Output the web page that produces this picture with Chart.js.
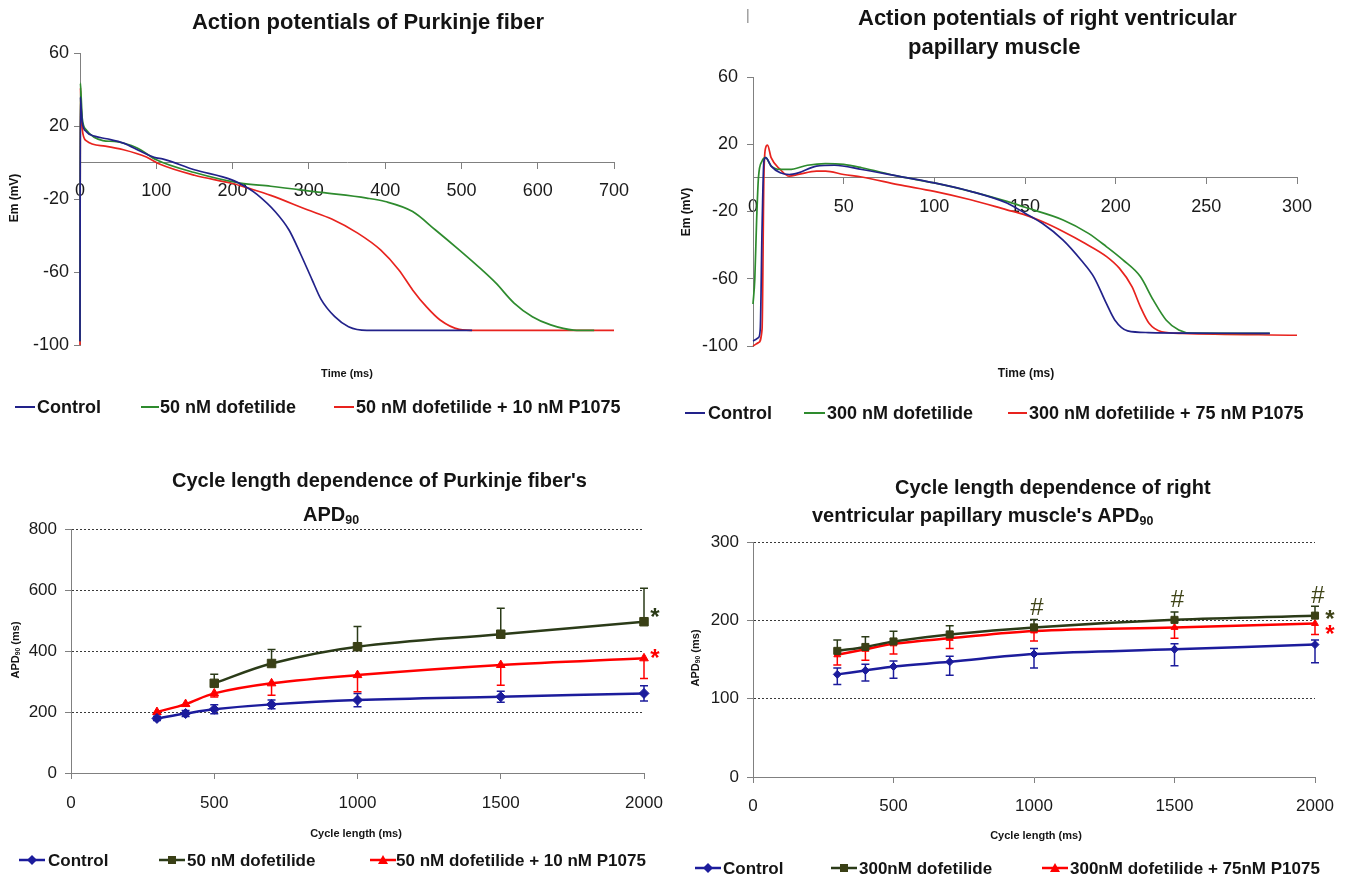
<!DOCTYPE html>
<html>
<head>
<meta charset="utf-8">
<script src="https://cdn.jsdelivr.net/npm/chart.js@4.4.0/dist/chart.umd.min.js"></script>
<style>
    body { margin: 0; background: #fff; overflow: hidden; }
    #page { position: relative; width: 1348px; height: 877px; font-family: "Liberation Sans", Arial, sans-serif; color: #141414; }
    canvas { position: absolute; left: 0; top: 0; }
    .t { position: absolute; white-space: nowrap; font-weight: bold; line-height: 1; transform: translateY(-50%); }
    .c { transform: translate(-50%, -50%); }
    .v { transform: translate(-50%, -50%) rotate(-90deg); }
    .sw { position: absolute; height: 2px; }
    .mk { position: absolute; width: 26px; height: 12px; }
    sub { font-size: 62%; vertical-align: -0.25em; line-height: 0; }
</style>
</head>
<body>
<div id="page">
    <canvas id="apPurkinje" width="1348" height="877"></canvas>
    <canvas id="apPapillary" width="1348" height="877"></canvas>
    <canvas id="apdPurkinje" width="1348" height="877"></canvas>
    <canvas id="apdPapillary" width="1348" height="877"></canvas>

    <!-- titles -->
    <div class="t c" style="left:368px;top:22px;font-size:22px">Action potentials of Purkinje fiber</div>
    <div class="t" style="left:746px;top:15px;font-size:14px;font-weight:normal;color:#888">|</div>
    <div class="t" style="left:858px;top:18px;font-size:22px">Action potentials of right ventricular</div>
    <div class="t" style="left:908px;top:47px;font-size:22px">papillary muscle</div>
    <div class="t" style="left:172px;top:480px;font-size:20px">Cycle length dependence of Purkinje fiber's</div>
    <div class="t" style="left:303px;top:514px;font-size:20px">APD<sub>90</sub></div>
    <div class="t" style="left:895px;top:487px;font-size:20px">Cycle length dependence of right</div>
    <div class="t" style="left:812px;top:515px;font-size:20px">ventricular papillary muscle's APD<sub>90</sub></div>

    <!-- axis titles -->
    <div class="t v" style="left:14px;top:198px;font-size:12px">Em (mV)</div>
    <div class="t c" style="left:347px;top:373px;font-size:11px">Time (ms)</div>
    <div class="t v" style="left:686px;top:212px;font-size:12px">Em (mV)</div>
    <div class="t c" style="left:1026px;top:373px;font-size:12px">Time (ms)</div>
    <div class="t v" style="left:15px;top:650px;font-size:11px">APD<sub>90</sub> (ms)</div>
    <div class="t c" style="left:356px;top:833px;font-size:11px">Cycle length (ms)</div>
    <div class="t v" style="left:695px;top:658px;font-size:11px">APD<sub>90</sub> (ms)</div>
    <div class="t c" style="left:1036px;top:835px;font-size:11px">Cycle length (ms)</div>

    <!-- legends, top -->
    <div class="sw" style="left:15px;top:406px;width:20px;background:#22228a"></div>
    <div class="t" style="left:37px;top:407px;font-size:18px">Control</div>
    <div class="sw" style="left:141px;top:406px;width:18px;background:#2e8b2e"></div>
    <div class="t" style="left:160px;top:407px;font-size:18px">50 nM dofetilide</div>
    <div class="sw" style="left:334px;top:406px;width:20px;background:#e8231e"></div>
    <div class="t" style="left:356px;top:407px;font-size:18px">50 nM dofetilide + 10 nM P1075</div>

    <div class="sw" style="left:685px;top:412px;width:20px;background:#22228a"></div>
    <div class="t" style="left:708px;top:413px;font-size:18px">Control</div>
    <div class="sw" style="left:804px;top:412px;width:21px;background:#2e8b2e"></div>
    <div class="t" style="left:827px;top:413px;font-size:18px">300 nM dofetilide</div>
    <div class="sw" style="left:1008px;top:412px;width:19px;background:#e8231e"></div>
    <div class="t" style="left:1029px;top:413px;font-size:18px">300 nM dofetilide + 75 nM P1075</div>

    <!-- legends, bottom -->
    <svg class="mk" style="left:19px;top:854px"><line x1="0" y1="6" x2="26" y2="6" stroke="#1c1c9c" stroke-width="2.5"/><polygon points="13,1 18,6 13,11 8,6" fill="#1c1c9c"/></svg>
    <div class="t" style="left:48px;top:860px;font-size:17px">Control</div>
    <svg class="mk" style="left:159px;top:854px"><line x1="0" y1="6" x2="26" y2="6" stroke="#2b3b18" stroke-width="2.5"/><rect x="9" y="2" width="8" height="8" fill="#3a4016"/></svg>
    <div class="t" style="left:187px;top:860px;font-size:17px">50 nM dofetilide</div>
    <svg class="mk" style="left:370px;top:854px"><line x1="0" y1="6" x2="26" y2="6" stroke="#ff0000" stroke-width="2.5"/><polygon points="13,1 18,10 8,10" fill="#ff0000"/></svg>
    <div class="t" style="left:396px;top:860px;font-size:17px">50 nM dofetilide + 10 nM P1075</div>

    <svg class="mk" style="left:695px;top:862px"><line x1="0" y1="6" x2="26" y2="6" stroke="#1c1c9c" stroke-width="2.5"/><polygon points="13,1 18,6 13,11 8,6" fill="#1c1c9c"/></svg>
    <div class="t" style="left:723px;top:868px;font-size:17px">Control</div>
    <svg class="mk" style="left:831px;top:862px"><line x1="0" y1="6" x2="26" y2="6" stroke="#2b3b18" stroke-width="2.5"/><rect x="9" y="2" width="8" height="8" fill="#3a4016"/></svg>
    <div class="t" style="left:859px;top:868px;font-size:17px">300nM dofetilide</div>
    <svg class="mk" style="left:1042px;top:862px"><line x1="0" y1="6" x2="26" y2="6" stroke="#ff0000" stroke-width="2.5"/><polygon points="13,1 18,10 8,10" fill="#ff0000"/></svg>
    <div class="t" style="left:1070px;top:868px;font-size:17px">300nM dofetilide + 75nM P1075</div>
</div>

<script>
// --- Action potentials, Purkinje fiber (time ms / Em mV) ---
const pkCtrlT = [0, 0.5, 1.5, 3, 8, 20, 35, 57, 80, 100, 108, 150, 199, 220, 232, 256, 274, 289, 304, 316, 334, 352, 376, 420, 514];
const pkCtrlV = [-98, 36, 30, 22, 17, 14.3, 13, 10.6, 6, 2.5, 2, -4, -9.5, -14, -17.5, -27, -37, -50, -64, -75, -84.5, -90, -92, -92, -92];
const pkDofT = [0, 0.5, 1.5, 3, 8, 30, 45, 75, 100, 150, 210, 250, 316, 376, 400, 436, 466, 497, 527, 545, 569, 593, 617, 647, 674];
const pkDofV = [-98, 43.5, 36, 24, 18, 12, 11.5, 8, 1.5, -5.5, -11.3, -13, -16.4, -19.5, -21.4, -26.9, -37, -47.9, -58.9, -66, -77, -84.5, -89, -91.8, -92];
const pkP1075T = [0, 0.5, 1.5, 3, 8, 33, 57, 87, 105, 150, 200, 220, 250, 298, 330, 364, 394, 418, 436, 454, 472, 497, 520, 700];
const pkP1075V = [-100, 41, 30, 18, 12, 9, 7, 3, -1, -7, -11.5, -14, -18, -25.9, -31, -38.7, -47.9, -58.9, -69.8, -79, -86.3, -91.4, -92, -92];

// --- Action potentials, right ventricular papillary muscle ---
const pmCtrlT = [0, 3, 4, 5, 6, 7, 10, 15, 20, 25, 35, 45, 60, 80, 100, 120, 140, 150, 159.5, 171, 181, 188, 195, 199.5, 206.6, 218, 285];
const pmCtrlV = [-97, -95, -90, -30, 10, 12, 7, 3, 2, 3, 7, 7.5, 5, 1, -3, -8, -15, -21, -27, -37, -49, -59, -75, -84.5, -91, -92, -92.5];
const pmDofT = [0, 1, 2, 3, 5, 7, 10, 15, 20, 30, 40, 50, 60, 80, 100, 120, 140, 150, 171, 185, 195, 204, 213.6, 220.7, 227.8, 234.8, 242, 285];
const pmDofV = [-75, -60, -25, 0, 10, 12, 7, 5, 5, 7.5, 8.5, 8, 6, 1, -3, -8, -14, -17.5, -25, -33, -41, -48.8, -58.7, -72.6, -84.5, -90.5, -92.4, -92.5];
const pmP1075T = [0, 3, 5, 6, 7, 8, 10, 15, 20, 25, 35, 40, 50, 60, 80, 100, 120, 140, 150, 159.5, 171, 183, 195, 202, 209, 213.6, 218.4, 225.4, 237, 300];
const pmP1075V = [-100, -98, -90, 0, 18, 19.5, 12, 5, 1, 2, 4, 4, 2, 0.5, -4, -8, -13, -19, -22, -26, -31.9, -38.9, -46.8, -53.7, -64.7, -76.6, -86.5, -91.5, -92.5, -93.6];

// --- APD90 vs cycle length ---
const cycleLen = [300, 400, 500, 700, 1000, 1500, 2000];

const pkApdCtrl = [179, 195, 209, 225, 239, 250, 261];
const pkApdCtrlErr = [7, 10, 15, 14, 22, 18, 25];
const pkApdDof = [null, null, 294, 359, 414, 455, 496];
const pkApdDofErr = [null, null, 30, 46, 66, 85, 110];
const pkApdP1075 = [200, 226, 261, 294, 321, 354, 376];
const pkApdP1075Err = [6, 6, 12, 39, 55, 66, 66];

const pmApdCtrl = [131, 136, 141, 147, 157, 163, 169];
const pmApdCtrlErrUp = [8, 8, 7, 7, 7, 7, 6];
const pmApdCtrlErrDown = [13, 13.5, 15, 17, 18, 21, 23];
const pmApdDof = [161, 166, 173, 182, 191, 200.6, 206];
const pmApdDofErr = [14, 13, 13, 11, 10, 10, 12];
const pmApdP1075 = [156, 163, 170, 177, 186.5, 191, 196];
const pmApdP1075Err = [13, 14, 13, 13, 13, 14, 14];
const pmHashAt = [1000, 1500, 2000];

const FONT = '"Liberation Sans", Arial, sans-serif';
const AXIS = '#808080';
const TEXT = '#1a1a1a';
const Y_BOX = 60;   // width kept for the y scale (its labels are clipped to it)
const X_BOX = 45;   // height kept for the bottom x scale

const toPoints = (xs, ys) => xs.map((x, i) => ({ x: x, y: ys[i] }));

// error bars: drawn under the markers
const errorBars = {
    id: 'errorBars',
    beforeDatasetsDraw(chart) {
        const { ctx, scales: { x, y } } = chart;
        chart.data.datasets.forEach(ds => {
            if (!ds.errUp && !ds.errDown) return;
            ctx.save();
            ctx.strokeStyle = ds.borderColor;
            ctx.lineWidth = 1.5;
            ds.data.forEach((p, i) => {
                if (p.y == null) return;
                const px = x.getPixelForValue(p.x);
                const py = y.getPixelForValue(p.y);
                [[ds.errUp, 1], [ds.errDown, -1]].forEach(([arr, dir]) => {
                    const e = arr && arr[i];
                    if (!e) return;
                    const ey = y.getPixelForValue(p.y + dir * e);
                    ctx.beginPath();
                    ctx.moveTo(px, py);
                    ctx.lineTo(px, ey);
                    ctx.moveTo(px - 4, ey);
                    ctx.lineTo(px + 4, ey);
                    ctx.stroke();
                });
            });
            ctx.restore();
        });
    }
};

// significance marks (* after the last point, # above chosen points)
const sigMarks = {
    id: 'sigMarks',
    afterDatasetsDraw(chart) {
        const { ctx, scales: { x, y } } = chart;
        chart.data.datasets.forEach(ds => {
            const pts = ds.data.filter(p => p.y != null);
            ctx.save();
            ctx.fillStyle = ds.markColor || ds.borderColor;
            ctx.textAlign = 'center';
            ctx.textBaseline = 'middle';
            if (ds.star) {
                const last = pts[pts.length - 1];
                ctx.font = 'bold 24px ' + FONT;
                ctx.fillText('*', x.getPixelForValue(last.x) + ds.star[0], y.getPixelForValue(last.y) + ds.star[1]);
            }
            (ds.hashAt || []).forEach(cx => {
                const p = pts.find(q => q.x === cx);
                ctx.font = '24px ' + FONT;
                ctx.fillText('#', x.getPixelForValue(p.x) + 3, y.getPixelForValue(p.y) - 19);
            });
            ctx.restore();
        });
    }
};

// plot box in page pixels -> layout padding around the scale boxes
function padFor(left, top, right, bottom, xBox) {
    return { left: left - Y_BOX, top: top, right: 1348 - right, bottom: 877 - bottom - xBox };
}

function apChart(id, box, xMax, xStep, yPad, series) {
    return new Chart(document.getElementById(id), {
        type: 'line',
        data: {
            datasets: series.map(s => ({
                label: s.label,
                data: toPoints(s.t, s.v),
                borderColor: s.color,
                borderWidth: 1.7,
                pointRadius: 0,
                cubicInterpolationMode: 'monotone',
                clip: false
            }))
        },
        options: {
            responsive: false,
            animation: false,
            events: [],
            layout: { padding: padFor(...box, 0) },
            plugins: { legend: { display: false }, tooltip: { enabled: false } },
            scales: {
                x: {
                    type: 'linear', position: { y: 0 }, min: 0, max: xMax,
                    ticks: { stepSize: xStep, padding: 12, maxRotation: 0, color: TEXT, font: { family: FONT, size: 18 }, format: { useGrouping: false } },
                    grid: { drawOnChartArea: false, tickLength: 6, color: AXIS },
                    border: { color: AXIS },
                    afterFit: s => { s.height = 0; }
                },
                y: {
                    min: -100, max: 60,
                    ticks: { stepSize: 40, padding: yPad, color: TEXT, font: { family: FONT, size: 18 } },
                    grid: { drawOnChartArea: false, tickLength: 6, color: AXIS },
                    border: { color: AXIS },
                    afterFit: s => { s.width = Y_BOX; }
                }
            }
        }
    });
}

function apdChart(id, box, yMax, yStep, xPad, series, radius) {
    return new Chart(document.getElementById(id), {
        type: 'line',
        data: {
            datasets: series.map(s => ({
                label: s.label,
                data: toPoints(cycleLen, s.v),
                borderColor: s.color,
                borderWidth: 2.5,
                tension: 0.35,
                pointStyle: s.shape,
                pointRadius: s.shape === 'rect' ? radius + 1 : radius,
                pointBackgroundColor: s.marker || s.color,
                pointBorderColor: s.marker || s.color,
                pointBorderWidth: 1,
                errUp: s.errUp,
                errDown: s.errDown,
                star: s.star,
                hashAt: s.hashAt,
                markColor: s.markColor,
                clip: false
            }))
        },
        options: {
            responsive: false,
            animation: false,
            events: [],
            layout: { padding: padFor(...box, X_BOX) },
            plugins: { legend: { display: false }, tooltip: { enabled: false } },
            scales: {
                x: {
                    type: 'linear', min: 0, max: 2000,
                    ticks: { stepSize: 500, padding: xPad, maxRotation: 0, color: TEXT, font: { family: FONT, size: 17 }, format: { useGrouping: false } },
                    grid: { drawOnChartArea: false, tickLength: 6, color: AXIS },
                    border: { color: AXIS },
                    afterFit: s => { s.height = X_BOX; }
                },
                y: {
                    min: 0, max: yMax,
                    ticks: { stepSize: yStep, padding: 8, color: TEXT, font: { family: FONT, size: 17 } },
                    grid: {
                        color: c => (c.tick && c.tick.value === 0) ? 'rgba(0,0,0,0)' : '#3a3a3a',
                        tickColor: AXIS, tickLength: 6, lineWidth: 1
                    },
                    border: { color: AXIS, dash: [2, 2] },
                    afterFit: s => { s.width = Y_BOX; }
                }
            }
        },
        plugins: [errorBars, sigMarks]
    });
}

const BLUE = '#22228a', GREEN = '#2e8b2e', RED = '#e8231e';
const NAVY = '#1c1c9c', OLIVE = '#2b3b18', OLIVE_MK = '#3a4016', BRIGHT_RED = '#ff0000';

apChart('apPurkinje', [80, 53, 614, 345], 700, 100, 5, [
    { label: 'Control', t: pkCtrlT, v: pkCtrlV, color: BLUE },
    { label: '50 nM dofetilide', t: pkDofT, v: pkDofV, color: GREEN },
    { label: '50 nM dofetilide + 10 nM P1075', t: pkP1075T, v: pkP1075V, color: RED }
]);

apChart('apPapillary', [753, 77, 1297, 346], 300, 50, 9, [
    { label: 'Control', t: pmCtrlT, v: pmCtrlV, color: BLUE },
    { label: '300 nM dofetilide', t: pmDofT, v: pmDofV, color: GREEN },
    { label: '300 nM dofetilide + 75 nM P1075', t: pmP1075T, v: pmP1075V, color: RED }
]);

apdChart('apdPurkinje', [71, 529, 644, 773], 800, 200, 14, [
    { label: 'Control', v: pkApdCtrl, color: NAVY, shape: 'rectRot', errUp: pkApdCtrlErr, errDown: pkApdCtrlErr },
    { label: '50 nM dofetilide', v: pkApdDof, color: OLIVE, marker: OLIVE_MK, shape: 'rect', errUp: pkApdDofErr, star: [11, -3] },
    { label: '50 nM dofetilide + 10 nM P1075', v: pkApdP1075, color: BRIGHT_RED, shape: 'triangle', errDown: pkApdP1075Err, star: [11, 1] }
], 5);

apdChart('apdPapillary', [753, 542, 1315, 777], 300, 100, 13, [
    { label: 'Control', v: pmApdCtrl, color: NAVY, shape: 'rectRot', errUp: pmApdCtrlErrUp, errDown: pmApdCtrlErrDown },
    { label: '300nM dofetilide', v: pmApdDof, color: OLIVE, marker: OLIVE_MK, shape: 'rect', errUp: pmApdDofErr, star: [15, 5], hashAt: pmHashAt, markColor: '#3f4418' },
    { label: '300nM dofetilide + 75nM P1075', v: pmApdP1075, color: BRIGHT_RED, shape: 'triangle', errDown: pmApdP1075Err, star: [15, 12] }
], 4);
</script>
</body>
</html>
